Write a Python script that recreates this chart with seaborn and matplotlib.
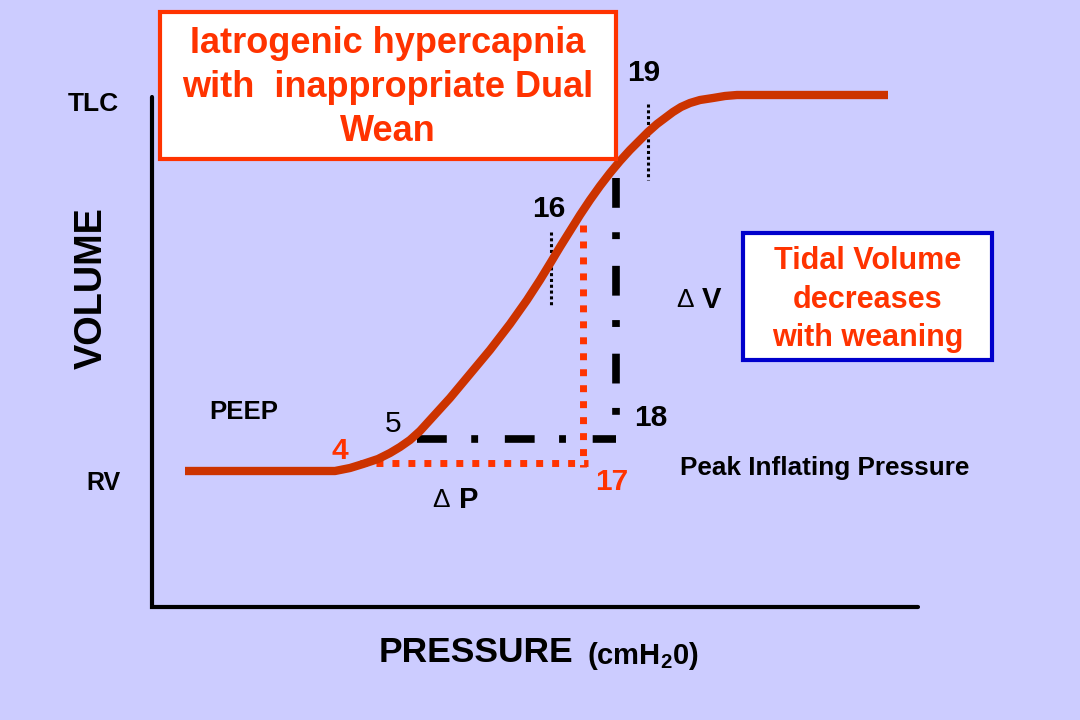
import numpy as np
import pandas as pd
import matplotlib.pyplot as plt
from matplotlib.patches import Rectangle
import seaborn as sns

sns.set_theme(style="white")
plt.rcParams["font.family"] = ["Liberation Sans", "DejaVu Sans"]
plt.rcParams["text.color"] = "black"
plt.rcParams["mathtext.fontset"] = "custom"
plt.rcParams["mathtext.rm"] = "Liberation Sans:bold"
plt.rcParams["mathtext.it"] = "Liberation Sans:bold"
plt.rcParams["mathtext.bf"] = "Liberation Sans:bold"
plt.rcParams["mathtext.default"] = "rm"

## Data (in slide pixel units: x = pressure, y = volume drawn downwards)
curve_x = [185, 335, 350, 363, 378, 390, 400, 410, 420, 430, 440, 450, 470, 490,
           510, 527, 540, 551, 560, 570, 580, 590, 600, 610, 620, 630, 640, 648,
           657, 665, 673, 681, 690, 700, 713, 725, 737, 888]
curve_y = [471, 471, 468, 464, 459, 453, 447, 440, 431, 420, 409, 398, 374, 350,
           324, 300, 280, 262, 247, 231, 215, 200, 186, 173, 161, 150, 140, 132,
           124, 118, 112, 107, 103, 100, 98, 96, 95, 95]

# black dash-dot guides (peak 18 cmH2O), red dotted guides (17 cmH2O)
peak_h_x = [417, 616]
peak_h_y = [439, 439]
peak_v_x = [616, 616]
peak_v_y = [178, 439]
red_h_x = [360, 588]
red_h_y = [463, 463]
red_v_x = [583, 583]
red_v_y = [225, 467]
# short dotted ticks at 16 and 19
tick16_x = [551, 551]
tick16_y = [232, 306]
tick19_x = [648, 648]
tick19_y = [104, 180]

number_labels = ["19", "16", "18", "5", "4", "17"]
title_lines = ["Iatrogenic hypercapnia", "with  inappropriate Dual", "Wean"]
note_lines = ["Tidal Volume", "decreases", "with weaning"]

BG = "#CCCCFF"
CURVE = "#CC3300"
RED = "#FF3300"
BLUE = "#0000CC"

fig = plt.figure(figsize=(10.8, 7.2), dpi=100, facecolor=BG)
ax = fig.add_axes([0, 0, 1, 1])
ax.set_facecolor(BG)

# axes of the diagram
ax.plot([152, 152, 918], [97, 607, 607], color="black", lw=3, solid_joinstyle="miter")

# guide lines
ax.plot(peak_h_x, peak_h_y, color="black", lw=5.5, dash_capstyle="butt",
        linestyle=(0, (3.9, 3.2, 0.9, 3.5)))
ax.plot(peak_v_x, peak_v_y, color="black", lw=5.5, dash_capstyle="butt",
        linestyle=(0, (3.9, 3.2, 0.9, 3.5)))
ax.plot(red_h_x, red_h_y, color=RED, lw=5, dash_capstyle="butt",
        linestyle=(0, (1, 1.3)))
ax.plot(red_v_x, red_v_y, color=RED, lw=5, dash_capstyle="butt",
        linestyle=(0, (1, 1.3)))
for xs, ys in [(tick16_x, tick16_y), (tick19_x, tick19_y)]:
    ax.plot(xs, ys, color="black", lw=2.2, dash_capstyle="butt",
            linestyle=(0, (1, 0.9)))

# pressure-volume curve
curve = pd.DataFrame({"pressure": curve_x, "volume": curve_y})
sns.lineplot(data=curve, x="pressure", y="volume", sort=False, color=CURVE,
             lw=6, solid_capstyle="butt", solid_joinstyle="round", ax=ax)
ax.set_xlim(0, 1080)
ax.set_ylim(720, 0)
ax.axis("off")

# boxes
ax.add_patch(Rectangle((160, 12), 456, 147, facecolor="white", edgecolor=RED, lw=3, zorder=3))
ax.add_patch(Rectangle((743, 233), 249, 127, facecolor="white", edgecolor=BLUE, lw=3, zorder=3))
for txt, y in zip(title_lines, [53, 97, 141]):
    ax.text(388, y, txt, color=RED, size=26, weight="bold", ha="center", va="baseline", zorder=4)
for txt, y in zip(note_lines, [269, 308, 346]):
    ax.text(868, y, txt, color=RED, size=22, weight="bold", ha="center", va="baseline", zorder=4)

# axis labels
ax.text(93, 104, "TLC", size=19, weight="bold", ha="center", va="center")
ax.text(103, 483, "RV", size=18, weight="bold", ha="center", va="center")
ax.text(92, 288, "VOLUME", size=27.3, weight="bold", ha="center", va="center", rotation=90)
ax.text(573, 653, "PRESSURE", size=25.5, weight="bold", ha="right", va="center")
ax.text(587, 656, r"(cmH$_2$0)", size=21, weight="bold", ha="left", va="center")

# annotations
ax.text(244, 412, "PEEP", size=18.5, weight="bold", ha="center", va="center")
ax.text(825, 468, "Peak Inflating Pressure", size=18.8, weight="bold", ha="center", va="center")
num_pos = [(644, 73), (549, 209), (651, 418), (393, 424), (340, 451), (612, 482)]
num_col = ["black", "black", "black", "black", RED, RED]
num_wt = ["bold", "bold", "bold", "normal", "bold", "bold"]
for lab, (x, y), c, w in zip(number_labels, num_pos, num_col, num_wt):
    ax.text(x, y, lab, size=21.5, color=c, weight=w, ha="center", va="center")

ax.text(441, 500, "\u0394", size=19, ha="center", va="center")
ax.text(469, 500, "P", size=21, weight="bold", ha="center", va="center")
ax.text(685, 300, "\u0394", size=19, ha="center", va="center")
ax.text(711, 300, "V", size=21, weight="bold", ha="center", va="center")

fig.savefig("out.png", dpi=100, facecolor=BG)
